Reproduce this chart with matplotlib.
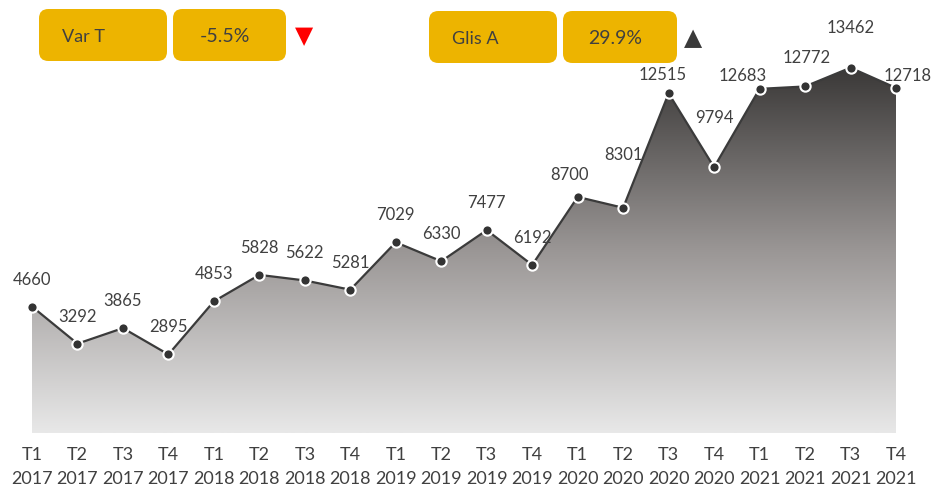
import numpy as np
import matplotlib.pyplot as plt
from matplotlib.patches import FancyBboxPatch, Polygon
from matplotlib.colors import LinearSegmentedColormap

quarters = ["T1", "T2", "T3", "T4"] * 5
years = ["2017"] * 4 + ["2018"] * 4 + ["2019"] * 4 + ["2020"] * 4 + ["2021"] * 4
values = [4660, 3292, 3865, 2895, 4853, 5828, 5622, 5281, 7029, 6330,
          7477, 6192, 8700, 8301, 12515, 9794, 12683, 12772, 13462, 12718]
kpi_labels = ["Var T", "Glis A"]
kpi_values = ["-5.5%", "29.9%"]

# label offsets in pixels (dx, dy) -- copied from the layout of the original
label_offsets = {12: (-8, 22), 13: (0, 53), 14: (-6, 18), 15: (0, 49),
                 16: (-17, 13), 17: (2, 28), 18: (0, 40), 19: (12, 12)}

plt.rcParams['font.family'] = ['Lato', 'DejaVu Sans']
TXT = "#404040"
GOLD = "#EDB400"

fig = plt.figure(figsize=(9.35, 4.92), dpi=100)
W, H = 935, 492
ax = fig.add_axes([32 / W, 1 - 433 / H, (896 - 32) / W, (433 - 26) / H])
x = np.arange(len(values))
ax.set_xlim(0, len(values) - 1)
ax.set_ylim(0, 15000)

# gradient fill under the line
cmap = LinearSegmentedColormap.from_list("g", ["#e8e8e8", "#9a9695", "#3a3837"])
grad = np.linspace(0, 1, 256).reshape(-1, 1)
top = max(values)
img = ax.imshow(grad, extent=[0, len(values) - 1, 0, top], origin="lower",
                aspect="auto", cmap=cmap, zorder=1)
poly = Polygon(np.vstack([[0, 0], np.column_stack([x, values]), [len(values) - 1, 0]]),
               closed=True, facecolor="none", edgecolor="none")
ax.add_patch(poly)
img.set_clip_path(poly)

ax.plot(x, values, color="#3b3b3b", lw=1.6, zorder=3, clip_on=False)
ax.scatter(x, values, s=55, color="#333333", edgecolor="white", linewidth=1.5,
           zorder=4, clip_on=False)

for i, v in enumerate(values):
    dx, dy = label_offsets.get(i, (0, 27))
    ax.annotate(str(v), (i, v), xytext=(dx, dy), textcoords="offset pixels",
                ha="center", va="center", fontsize=12, color=TXT, zorder=5)

ax.set_xticks(x)
ax.set_xticklabels([f"{q}\n{y}" for q, y in zip(quarters, years)],
                   fontsize=13, color=TXT, linespacing=1.6)
ax.tick_params(axis="x", length=0, pad=10)
ax.set_yticks([])
for s in ax.spines.values():
    s.set_visible(False)

# KPI boxes
boxes = [(39, 167, 9, 61), (173, 286, 9, 61), (429, 557, 11, 63), (563, 677, 11, 63)]
texts = [kpi_labels[0], kpi_values[0], kpi_labels[1], kpi_values[1]]
for (x0, x1, y0, y1), t in zip(boxes, texts):
    fig.patches.append(FancyBboxPatch((x0 / W, 1 - y1 / H), (x1 - x0) / W, (y1 - y0) / H,
                                      boxstyle="round,pad=0,rounding_size=0.01",
                                      transform=fig.transFigure, facecolor=GOLD,
                                      edgecolor="none", mutation_aspect=W / H))
    yc = 1 - ((y0 + y1) / 2 + 2) / H
    if "%" in t:
        fig.text(((x0 + x1) / 2 - 5) / W, yc, t, ha="center", va="center",
                 fontsize=14, color=TXT)
    else:
        fig.text((x0 + 23) / W, yc, t, ha="left", va="center", fontsize=13, color=TXT)

fig.text(304 / W, 1 - 36 / H, "\u25BC", ha="center", va="center", fontsize=17,
         color="#ff0000", family="DejaVu Sans")
fig.text(693 / W, 1 - 38 / H, "\u25B2", ha="center", va="center", fontsize=17,
         color="#3a3a3a", family="DejaVu Sans")

fig.savefig("out.png", dpi=100)
